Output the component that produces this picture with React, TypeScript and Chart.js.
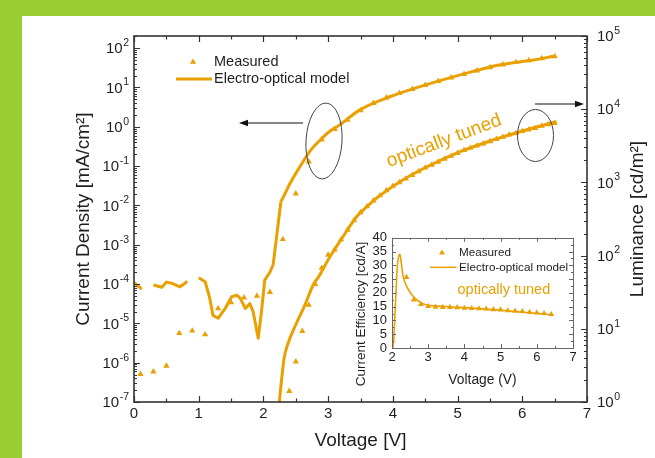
import React, { useEffect, useRef } from 'react';
import { Chart, registerables } from 'chart.js';
Chart.register(...registerables);

// ---------------- data: main plot ----------------
// Current density (left axis, mA/cm^2)
const jMeasV = [0.1, 0.3, 0.5, 0.7, 0.9, 1.1, 1.3, 1.5, 1.7, 1.9, 2.1, 2.3, 2.5, 2.7, 2.9, 3.1, 3.3, 3.5, 3.7, 3.9, 4.1, 4.3, 4.5, 4.7, 4.9, 5.1, 5.3, 5.5, 5.7, 5.9, 6.1, 6.3, 6.5];
const jMeas = [5.1e-7, 5.9e-7, 8.3e-7, 5.6e-6, 6.5e-6, 5.2e-6, 2.4e-5, 3.4e-5, 4.5e-5, 5.0e-5, 6.2e-5, 1.38e-3, 2.0e-2, 0.13, 0.47, 0.87, 1.5, 2.6, 4.0, 5.5, 7.2, 9.1, 11.5, 14.5, 17.8, 21.9, 26.9, 32.4, 38.0, 43.7, 49.0, 55.0, 61.7];
// model, low-voltage (noisy) part; null = break in the line
const jModelLowV = [0, 0.12, 0.2, 0.30, 0.43, 0.50, 0.58, 0.71, 0.79, 0.82, 0.9, 1.00, 1.10, 1.17, 1.22, 1.30, 1.41, 1.51, 1.59, 1.64, 1.72, 1.79, 1.84, 1.92, 1.97, 2.02, 2.10, 2.15, 2.27];
const jModelLow = [1.1e-4, 7.4e-5, null, 9.5e-5, 8.3e-5, 1.12e-4, 1.05e-4, 8.5e-5, 1.05e-4, 1.2e-4, null, 1.45e-4, 1.15e-4, 4.4e-5, 1.6e-5, 1.35e-5, 2.4e-5, 4.8e-5, 5.2e-5, 4.4e-5, 2.4e-5, 3.2e-5, 2.0e-5, 4.2e-6, 2.0e-5, 1.26e-4, 2.0e-4, 3.1e-4, 1.26e-2];
// model, smooth high-voltage part
const jModelHighV = [2.27, 2.31, 2.41, 2.57, 2.72, 2.87, 3.02, 3.18, 3.49, 3.96, 4.42, 5.04, 5.66, 6.17, 6.48];
const jModelHigh = [1.26e-2, 1.66e-2, 3.6e-2, 0.10, 0.24, 0.45, 0.76, 1.12, 2.7, 5.9, 10.5, 20.9, 38, 50, 62];
// Luminance (right axis, cd/m^2)
const lMeasV = [2.4, 2.5, 2.6, 2.7, 2.8, 2.9, 3.0, 3.1, 3.2, 3.3, 3.4, 3.5, 3.6, 3.7, 3.8, 3.9, 4.0, 4.1, 4.2, 4.3, 4.4, 4.5, 4.6, 4.7, 4.8, 4.9, 5.0, 5.1, 5.2, 5.3, 5.4, 5.5, 5.6, 5.7, 5.8, 5.9, 6.0, 6.1, 6.2, 6.3, 6.4, 6.5];
const lMeas = [1.41, 3.55, 9.3, 21.1, 40.7, 67.6, 102, 120, 166, 224, 302, 389, 468, 562, 661, 776, 891, 1000, 1122, 1259, 1413, 1585, 1738, 1905, 2089, 2291, 2512, 2754, 2951, 3162, 3388, 3631, 3890, 4169, 4467, 4677, 5012, 5248, 5495, 5888, 6166, 6457];
const lModelV = [2.22, 2.245, 2.28, 2.32, 2.38, 2.51, 2.64, 2.77, 2.85, 3.03, 3.23, 3.44, 3.65, 3.80, 4.11, 4.52, 5.04, 5.55, 6.07, 6.53];
const lModel = [0.7, 1.0, 2.0, 4.0, 6.3, 11.9, 21, 40, 51, 97, 182, 339, 513, 661, 1023, 1622, 2630, 3802, 5248, 6761];

// ---------------- data: inset ----------------
const ceMeasV = [2.4, 2.6, 2.8, 3.0, 3.2, 3.4, 3.6, 3.8, 4.0, 4.2, 4.4, 4.6, 4.8, 5.0, 5.2, 5.4, 5.6, 5.8, 6.0, 6.2, 6.4];
const ceMeas = [25.7, 17.5, 15.9, 15.1, 14.9, 14.8, 14.8, 14.7, 14.5, 14.4, 14.3, 14.2, 14.0, 13.9, 13.6, 13.5, 13.3, 13.0, 12.8, 12.6, 12.2];
const ceModelV = [2.02, 2.05, 2.08, 2.11, 2.14, 2.18, 2.22, 2.26, 2.31, 2.41, 2.54, 2.73, 2.96, 3.3, 3.65, 4.2, 4.57, 5.0, 5.49, 6.0, 6.46];
const ceModel = [0, 3, 11.7, 20, 28.5, 33, 34, 30.5, 25.8, 22.3, 19.4, 17.0, 15.6, 15.2, 14.9, 14.5, 14.1, 13.7, 13.1, 12.6, 11.9];

// ---------------- ticks ----------------
const xTicksMain = [0, 1, 2, 3, 4, 5, 6, 7];
const jDecades = [-7, -6, -5, -4, -3, -2, -1, 0, 1, 2];
const lDecades = [0, 1, 2, 3, 4, 5];
const ceYTicks = [0, 5, 10, 15, 20, 25, 30, 35, 40];
const ceXTicks = [2, 3, 4, 5, 6, 7];

// ---------------- styles ----------------
const ORANGE = '#E9A000';
const INK = '#1e1e1e';
const AXIS = '#333333';
const GREEN = '#9ACD32';
const FONT = "'Liberation Sans', Arial, Helvetica, sans-serif";

const pts = (xs: number[], ys: (number | null)[]) => xs.map((x, i) => ({ x, y: ys[i] }));

function triangle(ctx: CanvasRenderingContext2D, x: number, y: number, r: number) {
  ctx.beginPath();
  for (let k = 0; k < 3; k++) {
    const a = (k * 2 * Math.PI) / 3;
    const px = x + Math.sin(a) * r;
    const py = y - Math.cos(a) * r;
    if (k === 0) ctx.moveTo(px, py); else ctx.lineTo(px, py);
  }
  ctx.closePath();
  ctx.fill();
}

function arrow(ctx: CanvasRenderingContext2D, x1: number, y1: number, x2: number, y2: number) {
  const ang = Math.atan2(y2 - y1, x2 - x1);
  const L = 9, W = 3.2;
  ctx.beginPath();
  ctx.moveTo(x1, y1);
  ctx.lineTo(x2 - L * Math.cos(ang) * 0.6, y2 - L * Math.sin(ang) * 0.6);
  ctx.stroke();
  ctx.beginPath();
  ctx.moveTo(x2, y2);
  ctx.lineTo(x2 - L * Math.cos(ang) + W * Math.sin(ang), y2 - L * Math.sin(ang) - W * Math.cos(ang));
  ctx.lineTo(x2 - L * Math.cos(ang) - W * Math.sin(ang), y2 - L * Math.sin(ang) + W * Math.cos(ang));
  ctx.closePath();
  ctx.fill();
}

// draws "10" with a raised exponent; side = 'left' (right-aligned at x) or 'right' (left-aligned at x)
function powerLabel(ctx: CanvasRenderingContext2D, value: number, x: number, y: number, side: 'left' | 'right') {
  const exp = String(Math.round(Math.log10(value)));
  ctx.font = `15px ${FONT}`;
  const wBase = ctx.measureText('10').width;
  ctx.font = `10.5px ${FONT}`;
  const wExp = ctx.measureText(exp).width;
  const x0 = side === 'left' ? x - wBase - wExp - 0.5 : x;
  ctx.textAlign = 'left';
  ctx.textBaseline = 'middle';
  ctx.font = `15px ${FONT}`;
  ctx.fillText('10', x0, y + 1);
  ctx.font = `10.5px ${FONT}`;
  ctx.fillText(exp, x0 + wBase + 0.5, y - 5);
}

// annotation layout (pixels on the page)
const ANN = {
  legendTri: { x: 193, y: 62 },
  legendLine: { x1: 176, x2: 212, y: 79 },
  legendTextX: 214,
  leftArrow: { x1: 303, y1: 123, x2: 239, y2: 123 },
  leftEllipse: { x: 324, y: 141, rx: 18, ry: 38, rot: 0.06 },
  rightArrow: { x1: 535, y1: 104, x2: 584, y2: 104 },
  rightEllipse: { x: 535.5, y: 135.5, rx: 18, ry: 26, rot: 0 },
  tuned: { x: 444, y: 141, rot: -0.36, size: 19 },
  rightTitle: { x: 638, size: 19 },
};

const mainDecor = {
  id: 'mainDecor',
  afterDraw(chart: any) {
    const { ctx, chartArea: a, scales } = chart;
    const x = scales.x, yL = scales.yL, yR = scales.yR;
    ctx.save();
    // ticks
    ctx.strokeStyle = AXIS;
    ctx.lineWidth = 1.2;
    ctx.beginPath();
    for (let v = 0; v <= 7.0001; v += 0.5) {
      const px = Math.round(x.getPixelForValue(v)) + 0.5;
      const len = Math.abs(v - Math.round(v)) < 1e-6 ? 6 : 3.5;
      ctx.moveTo(px, a.bottom); ctx.lineTo(px, a.bottom - len);
      ctx.moveTo(px, a.top); ctx.lineTo(px, a.top + len);
    }
    for (let e = -7; e <= 2; e++) {
      for (let m = 1; m <= 9; m++) {
        const v = m * Math.pow(10, e);
        if (v < yL.min * 0.999 || v > yL.max) continue;
        const py = Math.round(yL.getPixelForValue(v)) + 0.5;
        const len = m === 1 ? 6 : 3;
        ctx.moveTo(a.left, py); ctx.lineTo(a.left + len, py);
      }
    }
    for (let e = 0; e <= 5; e++) {
      for (let m = 1; m <= 9; m++) {
        const v = m * Math.pow(10, e);
        if (v < yR.min * 0.999 || v > yR.max * 1.001) continue;
        const py = Math.round(yR.getPixelForValue(v)) + 0.5;
        const len = m === 1 ? 6 : 3;
        ctx.moveTo(a.right, py); ctx.lineTo(a.right - len, py);
      }
    }
    ctx.stroke();
    // frame
    ctx.lineWidth = 1.6;
    ctx.strokeRect(a.left, a.top, a.right - a.left, a.bottom - a.top);

    // power-of-ten tick labels from the log scales' ticks
    ctx.fillStyle = INK;
    for (const t of yL.ticks) powerLabel(ctx, t.value, a.left - 5, yL.getPixelForValue(t.value), 'left');
    for (const t of yR.ticks) powerLabel(ctx, t.value, a.right + 10, yR.getPixelForValue(t.value), 'right');

    // legend
    ctx.fillStyle = ORANGE;
    triangle(ctx, ANN.legendTri.x, ANN.legendTri.y, 3.6);
    ctx.strokeStyle = ORANGE;
    ctx.lineWidth = 3;
    ctx.beginPath();
    ctx.moveTo(ANN.legendLine.x1, ANN.legendLine.y);
    ctx.lineTo(ANN.legendLine.x2, ANN.legendLine.y);
    ctx.stroke();
    ctx.fillStyle = INK;
    ctx.font = `14.5px ${FONT}`;
    ctx.textAlign = 'left';
    ctx.textBaseline = 'middle';
    ctx.fillText('Measured', ANN.legendTextX, ANN.legendTri.y);
    ctx.fillText('Electro-optical model', ANN.legendTextX, ANN.legendLine.y);

    // arrows and ellipses
    ctx.strokeStyle = '#111';
    ctx.fillStyle = '#111';
    ctx.lineWidth = 1.1;
    arrow(ctx, ANN.leftArrow.x1, ANN.leftArrow.y1, ANN.leftArrow.x2, ANN.leftArrow.y2);
    arrow(ctx, ANN.rightArrow.x1, ANN.rightArrow.y1, ANN.rightArrow.x2, ANN.rightArrow.y2);
    ctx.strokeStyle = '#444';
    ctx.lineWidth = 1;
    for (const el of [ANN.leftEllipse, ANN.rightEllipse]) {
      ctx.beginPath();
      ctx.ellipse(el.x, el.y, el.rx, el.ry, el.rot, 0, Math.PI * 2);
      ctx.stroke();
    }

    // "optically tuned"
    ctx.save();
    ctx.translate(ANN.tuned.x, ANN.tuned.y);
    ctx.rotate(ANN.tuned.rot);
    ctx.fillStyle = ORANGE;
    ctx.font = `${ANN.tuned.size}px ${FONT}`;
    ctx.textAlign = 'center';
    ctx.textBaseline = 'middle';
    ctx.fillText('optically tuned', 0, 0);
    ctx.restore();

    // right axis title (reads bottom to top)
    ctx.save();
    ctx.translate(ANN.rightTitle.x, (a.top + a.bottom) / 2);
    ctx.rotate(-Math.PI / 2);
    ctx.fillStyle = INK;
    ctx.font = `${ANN.rightTitle.size}px ${FONT}`;
    ctx.textAlign = 'center';
    ctx.textBaseline = 'middle';
    ctx.fillText('Luminance [cd/m\u00B2]', 0, 0);
    ctx.restore();

    ctx.restore();
  },
};

const insetDecor = {
  id: 'insetDecor',
  beforeDraw(chart: any) {
    const { ctx, chartArea: a } = chart;
    ctx.save();
    ctx.fillStyle = '#ffffff';
    ctx.fillRect(a.left, a.top, a.right - a.left, a.bottom - a.top);
    ctx.restore();
  },
  afterDraw(chart: any) {
    const { ctx, chartArea: a, scales } = chart;
    const x = scales.x, y = scales.y;
    ctx.save();
    ctx.strokeStyle = '#666';
    ctx.lineWidth = 1;
    ctx.beginPath();
    for (let v = 2; v <= 7.0001; v += 0.5) {
      const px = Math.round(x.getPixelForValue(v)) + 0.5;
      const len = Math.abs(v - Math.round(v)) < 1e-6 ? 4 : 2;
      ctx.moveTo(px, a.bottom); ctx.lineTo(px, a.bottom - len);
      ctx.moveTo(px, a.top); ctx.lineTo(px, a.top + len);
    }
    for (let v = 0; v <= 40.001; v += 2.5) {
      const py = Math.round(y.getPixelForValue(v)) + 0.5;
      const len = v % 5 === 0 ? 4 : 2;
      ctx.moveTo(a.left, py); ctx.lineTo(a.left + len, py);
      ctx.moveTo(a.right, py); ctx.lineTo(a.right - len, py);
    }
    ctx.stroke();
    ctx.strokeRect(Math.round(a.left) + 0.5, Math.round(a.top) + 0.5, Math.round(a.right - a.left), Math.round(a.bottom - a.top));

    // legend
    ctx.fillStyle = ORANGE;
    triangle(ctx, a.left + 50, a.top + 15, 3.4);
    ctx.strokeStyle = ORANGE;
    ctx.lineWidth = 1.5;
    ctx.beginPath();
    ctx.moveTo(a.left + 38, a.top + 29.5);
    ctx.lineTo(a.left + 64.5, a.top + 29.5);
    ctx.stroke();
    ctx.fillStyle = INK;
    ctx.font = `11.7px ${FONT}`;
    ctx.textAlign = 'left';
    ctx.textBaseline = 'middle';
    ctx.fillText('Measured', a.left + 67, a.top + 15);
    ctx.fillText('Electro-optical model', a.left + 67, a.top + 29.5);
    // tuned label
    ctx.fillStyle = ORANGE;
    ctx.font = `14.5px ${FONT}`;
    ctx.fillText('optically tuned', a.left + 65.5, a.top + 52);
    // y title
    ctx.save();
    ctx.translate(21.7, 89);
    ctx.rotate(-Math.PI / 2);
    ctx.fillStyle = INK;
    ctx.font = `13.5px ${FONT}`;
    ctx.textAlign = 'center';
    ctx.fillText('Current Efficiency [cd/A]', 0, 0);
    ctx.restore();
    ctx.restore();
  },
};

const tickFont = { family: FONT, size: 15 };

function mainConfig(): any {
  return {
    type: 'scatter',
    data: {
      datasets: [
        { label: 'Measured J', data: pts(jMeasV, jMeas), yAxisID: 'yL', pointStyle: 'triangle', pointRadius: 3.6, backgroundColor: ORANGE, borderWidth: 0, showLine: false },
        { label: 'Model J (low)', data: pts(jModelLowV, jModelLow), yAxisID: 'yL', showLine: true, borderColor: ORANGE, borderWidth: 3, pointRadius: 0, tension: 0, spanGaps: false, borderJoinStyle: 'round' },
        { label: 'Model J', data: pts(jModelHighV, jModelHigh), yAxisID: 'yL', showLine: true, borderColor: ORANGE, borderWidth: 3, pointRadius: 0, cubicInterpolationMode: 'monotone' },
        { label: 'Measured L', data: pts(lMeasV, lMeas), yAxisID: 'yR', pointStyle: 'triangle', pointRadius: 3.6, backgroundColor: ORANGE, borderWidth: 0, showLine: false },
        { label: 'Model L', data: pts(lModelV, lModel), yAxisID: 'yR', showLine: true, borderColor: ORANGE, borderWidth: 3, pointRadius: 0, cubicInterpolationMode: 'monotone' },
      ],
    },
    options: {
      animation: false,
      responsive: false,
      devicePixelRatio: 1,
      layout: { padding: { top: 36, left: 0, right: 0, bottom: 0 } },
      plugins: { legend: { display: false }, tooltip: { enabled: false } },
      scales: {
        x: {
          type: 'linear', position: 'bottom', min: 0, max: 7,
          afterFit: (s: any) => { s.height = 56; },
          afterBuildTicks: (s: any) => { s.ticks = xTicksMain.map((v) => ({ value: v })); },
          grid: { display: false, drawTicks: false }, border: { display: false },
          ticks: { font: tickFont, color: INK, padding: 3, maxRotation: 0, autoSkip: false },
          title: { display: true, text: 'Voltage [V]', font: { family: FONT, size: 19 }, color: INK, padding: { top: 0, bottom: 6 } },
        },
        yL: {
          type: 'logarithmic', position: 'left', min: 1e-7, max: Math.pow(10, 2.31),
          afterFit: (s: any) => { s.width = 134; },
          afterBuildTicks: (s: any) => { s.ticks = jDecades.map((e) => ({ value: Math.pow(10, e) })); },
          grid: { display: false, drawTicks: false }, border: { display: false },
          ticks: { display: false },
          title: { display: true, text: 'Current Density [mA/cm\u00B2]', font: { family: FONT, size: 19 }, color: INK, padding: { top: 72, bottom: 0 } },
        },
        yR: {
          type: 'logarithmic', position: 'right', min: 1, max: 1e5,
          afterFit: (s: any) => { s.width = 68; },
          afterBuildTicks: (s: any) => { s.ticks = lDecades.map((e) => ({ value: Math.pow(10, e) })); },
          grid: { display: false, drawTicks: false }, border: { display: false },
          ticks: { display: false },
        },
      },
    },
    plugins: [mainDecor],
  };
}

function insetConfig(): any {
  const f = { family: FONT, size: 13 };
  return {
    type: 'scatter',
    data: {
      datasets: [
        { label: 'Measured', data: pts(ceMeasV, ceMeas), pointStyle: 'triangle', pointRadius: 3.4, backgroundColor: ORANGE, borderWidth: 0, showLine: false },
        { label: 'Electro-optical model', data: pts(ceModelV, ceModel), showLine: true, borderColor: ORANGE, borderWidth: 1.6, pointRadius: 0, cubicInterpolationMode: 'monotone' },
      ],
    },
    options: {
      animation: false,
      responsive: false,
      devicePixelRatio: 1,
      layout: { padding: { top: 10, right: 17, left: 0, bottom: 0 } },
      plugins: { legend: { display: false }, tooltip: { enabled: false } },
      scales: {
        x: {
          type: 'linear', min: 2, max: 7,
          afterFit: (s: any) => { s.height = 52; },
          afterBuildTicks: (s: any) => { s.ticks = ceXTicks.map((v) => ({ value: v })); },
          grid: { display: false, drawTicks: false }, border: { display: false },
          ticks: { font: f, color: INK, padding: 2, maxRotation: 0, autoSkip: false },
          title: { display: true, text: 'Voltage (V)', font: { family: FONT, size: 13.8 }, color: INK, padding: { top: 0, bottom: 11.5 } },
        },
        y: {
          type: 'linear', min: 0, max: 40,
          afterFit: (s: any) => { s.width = 52; },
          afterBuildTicks: (s: any) => { s.ticks = ceYTicks.map((v) => ({ value: v })); },
          grid: { display: false, drawTicks: false }, border: { display: false },
          ticks: { font: f, color: INK, padding: 5, autoSkip: false },
        },
      },
    },
    plugins: [insetDecor],
  };
}

export default function App() {
  const mainRef = useRef<HTMLCanvasElement>(null);
  const insetRef = useRef<HTMLCanvasElement>(null);
  useEffect(() => {
    const main = new Chart(mainRef.current as HTMLCanvasElement, mainConfig());
    const inset = new Chart(insetRef.current as HTMLCanvasElement, insetConfig());
    return () => { main.destroy(); inset.destroy(); };
  }, []);
  return (
    <div style={{ position: 'fixed', left: 0, top: 0, width: 655, height: 458, background: GREEN, overflow: 'hidden' }}>
      <div style={{ position: 'absolute', left: 22, top: 16, right: 0, bottom: 0, background: '#ffffff' }} />
      <canvas ref={mainRef} width={655} height={458} style={{ position: 'absolute', left: 0, top: 0, width: 655, height: 458 }} />
      <canvas ref={insetRef} width={250} height={175} style={{ position: 'absolute', left: 340, top: 225, width: 250, height: 175 }} />
    </div>
  );
}
